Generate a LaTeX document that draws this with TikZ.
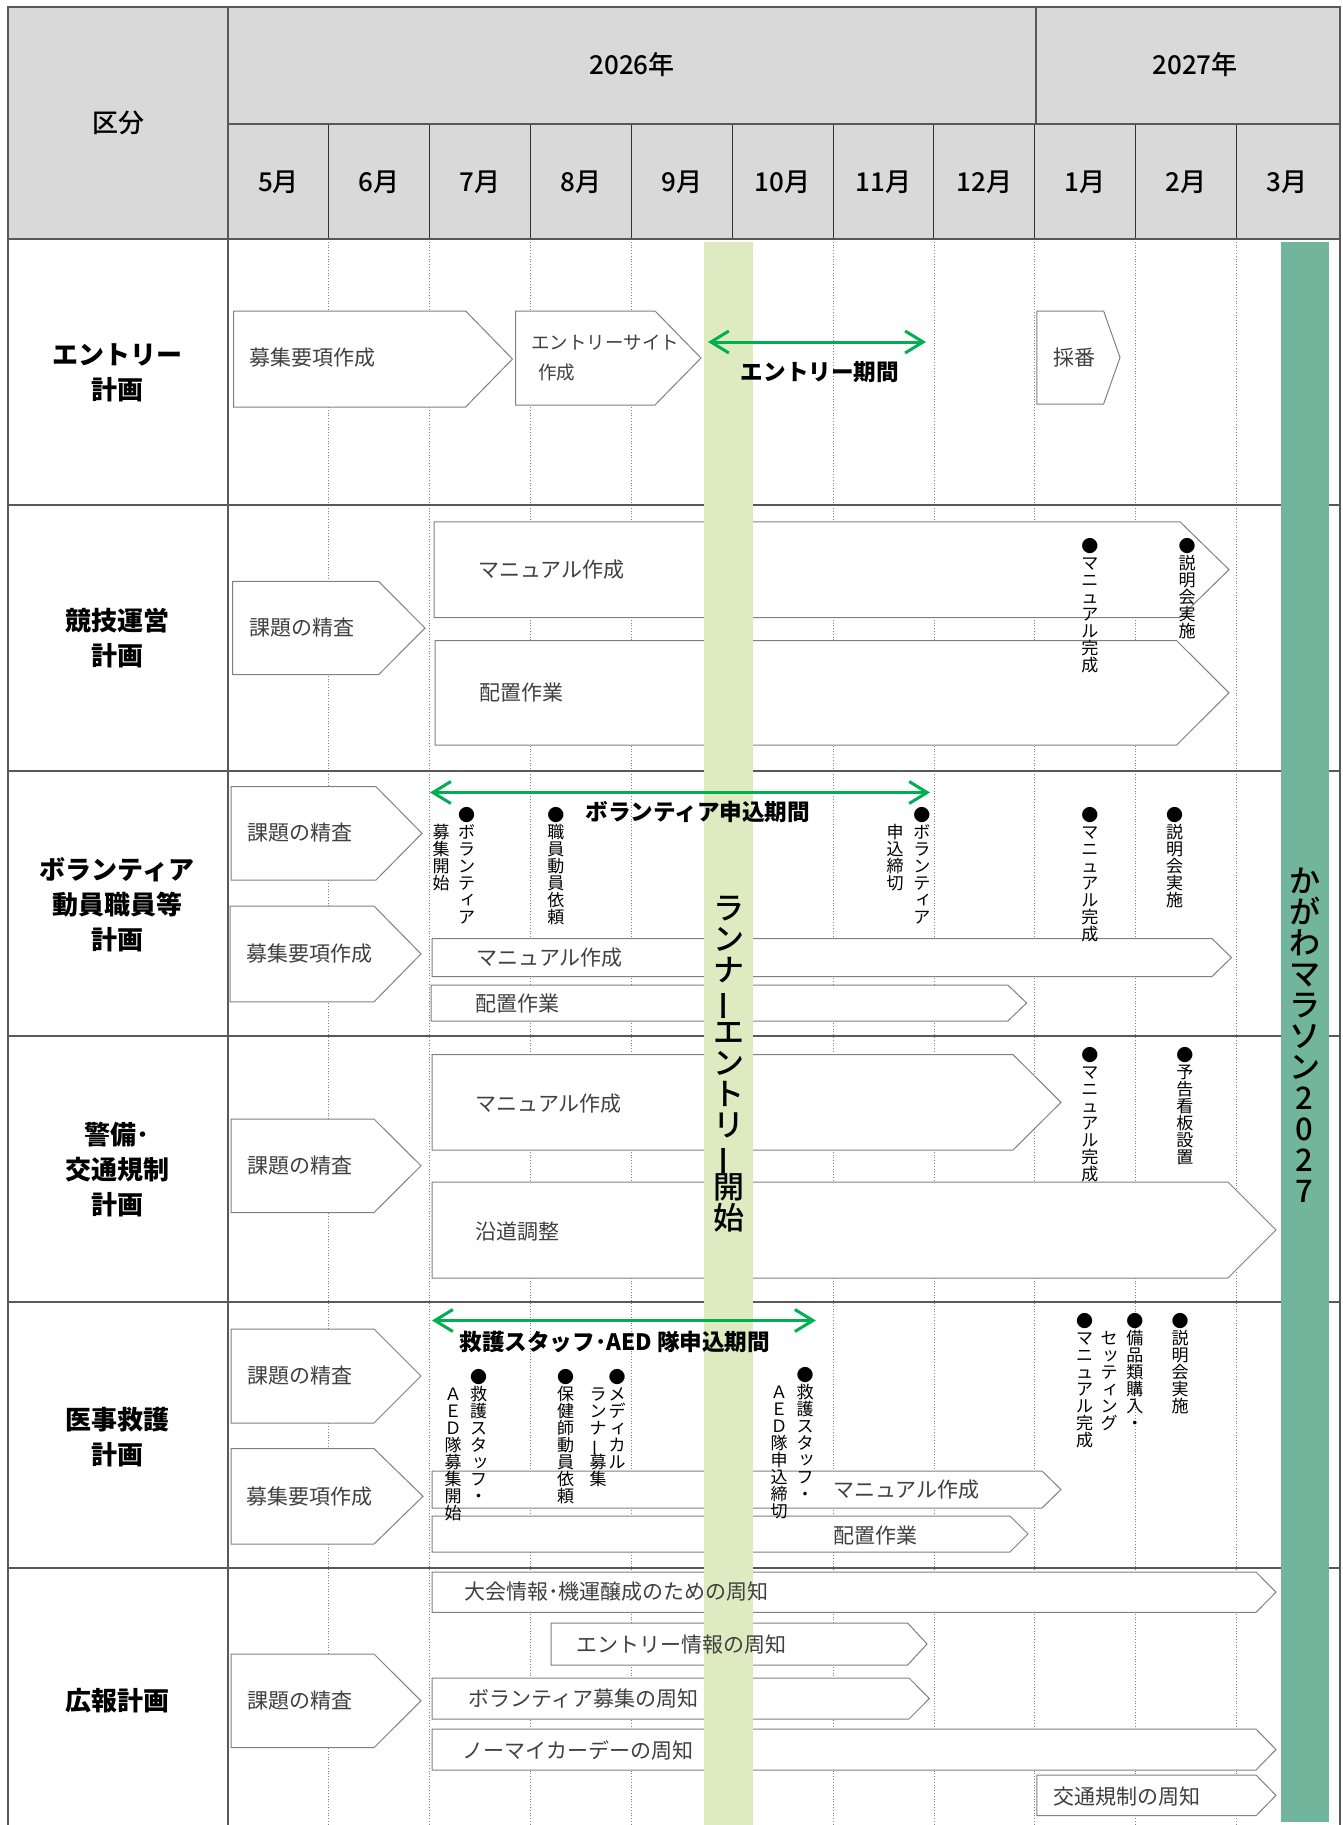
\documentclass[tikz,border=0pt]{standalone}
\usepackage{fontspec}
\setmainfont{Noto Sans CJK JP}
\newfontfamily\medfont{Noto Sans CJK JP Medium}
\usepackage{graphicx}
\usetikzlibrary{arrows.meta}

\definecolor{hdrgray}{RGB}{217,217,217}
\definecolor{framegray}{RGB}{89,89,89}
\definecolor{boxgray}{RGB}{128,128,128}
\definecolor{lblgray}{RGB}{64,64,64}
\definecolor{periodgreen}{RGB}{0,176,80}
\definecolor{entryband}{RGB}{222,235,193}
\definecolor{raceband}{RGB}{114,181,157}

% vertical (tategaki) stack of characters
\makeatletter
\def\vt@bar{ー}
\def\vt@xi{ィ}
\def\vt@tu{ッ}
\def\vt@small{\kern0.2em\raisebox{0.1em}{\vt@c}}
\def\vt@glyph{\ifx\vt@c\vt@bar\rotatebox[origin=c]{90}{ー}\else
  \ifx\vt@c\vt@xi\vt@small\else\ifx\vt@c\vt@tu\vt@small\else\vt@c\fi\fi\fi}
\newcommand\vtext[1]{\vbox{\offinterlineskip\@tfor\vt@c:=#1\do{%
  \hbox to 1em{\hss\raisebox{0pt}[0.88em][0.12em]{\vt@glyph}\hss}}}}
\makeatother

% chevron box: left x, top y, bottom y, shoulder x, tip x
\newcommand\chev[5]{\draw[chevbox] (#1,#2) -- (#4,#2) -- (#5,{(#2+#3)/2}) -- (#4,#3) -- (#1,#3) -- cycle;}

\tikzset{
  gridframe/.style={framegray, line width=0.9pt},
  monthsep/.style={black!80, line width=0.5pt},
  monthdot/.style={gray, line width=0.4pt, densely dotted},
  chevbox/.style={draw=boxgray, fill=white, line width=0.5pt},
  hdrlbl/.style={font=\fontsize{13pt}{17.5pt}\selectfont\medfont, inner sep=0pt},
  catlbl/.style={font=\fontsize{13pt}{17.5pt}\selectfont\bfseries, align=center, inner sep=0pt},
  boxlbl/.style={font=\fontsize{10.5pt}{15pt}\selectfont, text=lblgray, anchor=west, inner sep=0pt, align=left},
  period/.style={periodgreen, line width=1.5pt, {Straight Barb[length=9pt,width=11pt]}-{Straight Barb[length=9pt,width=11pt]}},
  periodlbl/.style={font=\fontsize{11.3pt}{13pt}\selectfont\bfseries, anchor=west, inner sep=0pt},
  mstone/.style={font=\fontsize{8.5pt}{8.5pt}\selectfont, anchor=north, inner sep=0pt},
  bandlbl/.style={font=\fontsize{15.5pt}{15.5pt}\selectfont\medfont, anchor=north, inner sep=0pt}
}

\begin{document}
\begin{tikzpicture}[x=0.5pt,y=-0.5pt]
        \useasboundingbox (0,0) rectangle (1343,1825);

        % header and grid
        \fill[hdrgray] (8,7) rectangle (1340,239);
        \foreach \i in {1,...,10}
            \draw[monthdot] ({228+100.85*\i},239) -- ({228+100.85*\i},1825);
        \foreach \i in {1,...,10}
            \draw[monthsep] ({228+100.85*\i},124) -- ({228+100.85*\i},239);
        \draw[gridframe] (8,1825) -- (8,7) -- (1340,7) -- (1340,1825);
        \draw[gridframe] (228,7) -- (228,1825);
        \draw[gridframe] (228,124) -- (1340,124);
        \draw[gridframe] (1035.6,7) -- (1035.6,124);
        \foreach \y in {239,505,771,1036,1302,1568}
            \draw[gridframe] (8,\y) -- (1340,\y);

        % entry
        \chev{233.5}{311}{407}{465.6}{512.5}
        \chev{515.6}{311}{405}{655}{701}
        \chev{1036.8}{311}{404}{1103.6}{1120}
        % race operation
        \chev{232.6}{581.4}{674.7}{378.6}{425}
        \chev{434}{521.8}{617.5}{1180}{1229}
        \chev{435}{640.7}{745}{1176.7}{1229}
        % volunteers
        \chev{231}{786.7}{880}{376}{422}
        \chev{230}{906}{1001.8}{374}{421}
        \chev{432}{938.6}{976.5}{1212}{1231.5}
        \chev{431}{985}{1021}{1007.8}{1026.6}
        % security
        \chev{231}{1119}{1212.5}{374}{421}
        \chev{432}{1054.6}{1150}{1013}{1061}
        \chev{432}{1182}{1278}{1228}{1276}
        % medical
        \chev{231}{1329}{1423}{374}{421}
        \chev{231}{1448.6}{1544}{374}{423}
        \chev{432}{1471}{1508}{1042}{1061}
        \chev{432}{1516}{1552}{1010}{1028}
        % public relations
        \chev{231}{1654}{1747.7}{374}{421}
        \chev{432}{1572}{1612.3}{1256}{1276}
        \chev{551}{1623}{1665}{907.6}{927}
        \chev{432}{1678}{1719}{909}{929.4}
        \chev{432}{1729}{1770}{1256}{1276}
        \chev{1036.8}{1775}{1815.7}{1256}{1276}

        % bands
        \fill[entryband] (704.4,242) rectangle (752.5,1825);
        \fill[raceband] (1280.5,242) rectangle (1329,1822);

        % periods
        \coordinate (entryS) at (708,342);
        \coordinate (entryE) at (926,342);
        \draw[period] (entryS) -- (entryE);
        \coordinate (volS) at (430,792.5);
        \coordinate (volE) at (930,792.5);
        \draw[period] (volS) -- (volE);
        \coordinate (aedS) at (432,1320.5);
        \coordinate (aedE) at (815.8,1320.5);
        \draw[period] (aedS) -- (aedE);

        % header labels
        \node[hdrlbl] (kubun) at (118,123) {区分};
        \node[hdrlbl] (y2026) at (632,65) {2026年};
        \node[hdrlbl] (y2027) at (1195,65) {2027年};
        \foreach \m [count=\i from 0] in {5,6,7,8,9,10,11,12,1,2,3}
            \node[hdrlbl] (m\i) at ({228+100.85*(\i+0.5)},182) {{\m}月};

        \node[catlbl] (cat1) at (117,373) {エントリー\\計画};
        \node[catlbl] (cat2) at (117,638) {競技運営\\計画};
        \node[catlbl] (cat3) at (117,905) {ボランティア\\動員職員等\\計画};
        \node[catlbl] (cat4) at (117,1170) {警備･\\交通規制\\計画};
        \node[catlbl] (cat5) at (117,1437) {医事救護\\計画};
        \node[catlbl] (cat6) at (117,1701) {広報計画};

        % box labels
        \node[boxlbl] (t11) at (248.7,358) {募集要項作成};
        \node[boxlbl, font=\fontsize{9.25pt}{15pt}\selectfont] (t12) at (531,358) {エントリーサイト\\\hspace{3.5pt}作成};
        \node[boxlbl] (t13) at (1053,358) {採番};
        \node[boxlbl] (t21) at (248.7,628) {課題の精査};
        \node[boxlbl] (t22) at (477.7,570) {マニュアル作成};
        \node[boxlbl] (t23) at (479,693) {配置作業};
        \node[boxlbl] (t31) at (247,833) {課題の精査};
        \node[boxlbl] (t32) at (246,953.7) {募集要項作成};
        \node[boxlbl] (t33) at (476,958) {マニュアル作成};
        \node[boxlbl] (t34) at (475,1003.5) {配置作業};
        \node[boxlbl] (t41) at (247,1165.8) {課題の精査};
        \node[boxlbl] (t42) at (475,1103.7) {マニュアル作成};
        \node[boxlbl] (t43) at (475,1231.8) {沿道調整};
        \node[boxlbl] (t51) at (247,1376) {課題の精査};
        \node[boxlbl] (t52) at (246,1496.7) {募集要項作成};
        \node[boxlbl] (t53) at (832.7,1489.6) {マニュアル作成};
        \node[boxlbl] (t54) at (832.7,1535) {配置作業};
        \node[boxlbl] (t61) at (247,1701) {課題の精査};
        \node[boxlbl] (t62) at (464,1592) {大会情報･機運醸成のための周知};
        \node[boxlbl] (t63) at (576,1645) {エントリー情報の周知};
        \node[boxlbl] (t64) at (468,1699) {ボランティア募集の周知};
        \node[boxlbl] (t65) at (462,1750) {ノーマイカーデーの周知};
        \node[boxlbl] (t66) at (1053,1796.7) {交通規制の周知};

        % period labels
        \node[periodlbl] (entryL) at (740.5,372) {エントリー期間};
        \node[periodlbl] (volL) at (585,812) {ボランティア申込期間};
        \node[periodlbl] (aedL) at (459,1342) {救護スタッフ･AED 隊申込期間};

        % milestones
        \node[mstone] (ms21) at (1089.8,537) {\vtext{●マニュアル完成}};
        \node[mstone] (ms22) at (1187,537) {\vtext{●説明会実施}};
        \node[mstone] (ms31) at (466.5,806) {\vtext{●ボランティア}};
        \node[mstone] (ms31b) at (441,823) {\vtext{募集開始}};
        \node[mstone] (ms32) at (555.8,806) {\vtext{●職員動員依頼}};
        \node[mstone] (ms33) at (921.8,806) {\vtext{●ボランティア}};
        \node[mstone] (ms33b) at (895,823) {\vtext{申込締切}};
        \node[mstone] (ms34) at (1089.8,806) {\vtext{●マニュアル完成}};
        \node[mstone] (ms35) at (1174.5,806) {\vtext{●説明会実施}};
        \node[mstone] (ms41) at (1089.8,1046.5) {\vtext{●マニュアル完成}};
        \node[mstone] (ms42) at (1184.8,1046.5) {\vtext{●予告看板設置}};
        \node[mstone] (ms51) at (478.6,1368.5) {\vtext{●救護スタッフ・}};
        \node[mstone] (ms51b) at (453,1385.5) {\vtext{ＡＥＤ隊募集開始}};
        \node[mstone] (ms52) at (565.6,1368.5) {\vtext{●保健師動員依頼}};
        \node[mstone] (ms53) at (617,1368.5) {\vtext{●メディカル}};
        \node[mstone] (ms53b) at (598,1385.5) {\vtext{ランナー募集}};
        \node[mstone] (ms54) at (805,1366) {\vtext{●救護スタッフ・}};
        \node[mstone] (ms54b) at (779,1383) {\vtext{ＡＥＤ隊申込締切}};
        \node[mstone] (ms55) at (1084.5,1312.5) {\vtext{●マニュアル完成}};
        \node[mstone] (ms56) at (1134.8,1312.5) {\vtext{●備品類購入・}};
        \node[mstone] (ms56b) at (1109,1329.5) {\vtext{セッティング}};
        \node[mstone] (ms57) at (1180,1312.5) {\vtext{●説明会実施}};

        % band labels
        \node[bandlbl] (runner) at (728.5,892) {\vtext{ランナーエントリー開始}};
        \node[bandlbl] (kagawa) at (1304.8,865) {\vtext{かがわマラソン2027}};
    \end{tikzpicture}
\end{document}
